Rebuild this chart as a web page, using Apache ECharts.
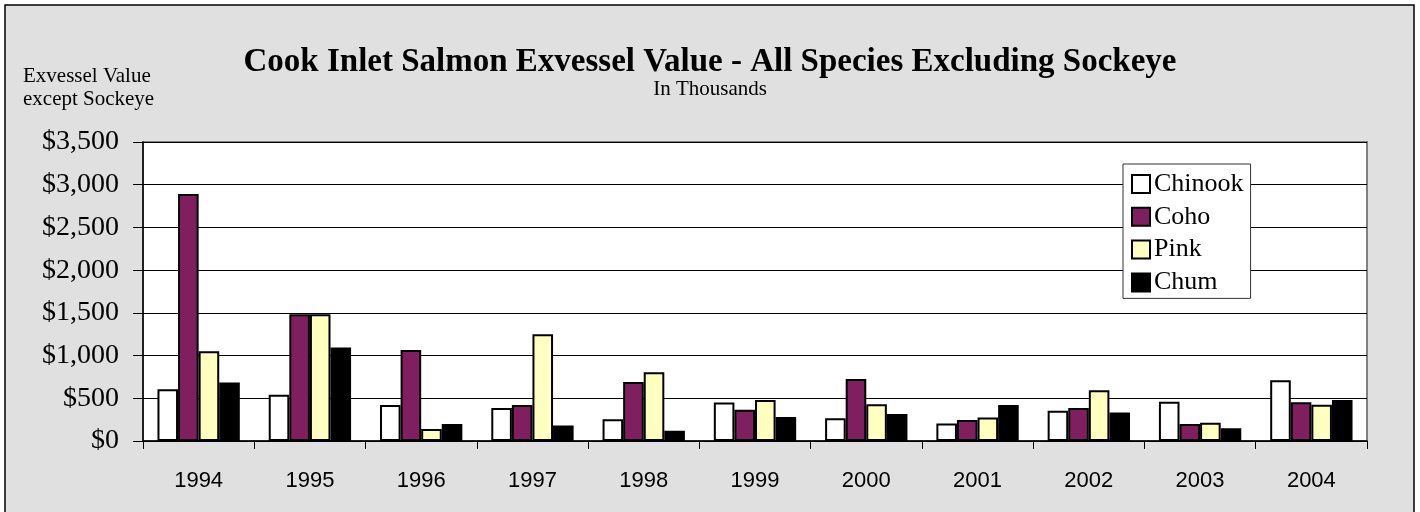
<!doctype html>
<html>

<head>
	<meta charset="utf-8">
	<title>Cook Inlet Salmon Exvessel Value</title>
	<script type="text/javascript" src="https://cdn.jsdelivr.net/npm/echarts@6/dist/echarts.min.js"></script>
	<style>
		body { margin: 0; background: #fff; }
	</style>
</head>

<body>
	<div id="main" style="width: 1420px;height:512px;"></div>
	<script type="text/javascript">
		var years = ['1994', '1995', '1996', '1997', '1998', '1999', '2000', '2001', '2002', '2003', '2004'];
		var chinook = [605, 540, 420, 385, 255, 450, 265, 205, 355, 460, 710];
		var coho = [2890, 1485, 1065, 420, 690, 365, 725, 245, 385, 200, 455];
		var pink = [1050, 1485, 140, 1250, 805, 480, 430, 275, 595, 215, 425];
		var chum = [685, 1095, 200, 180, 120, 280, 315, 420, 335, 150, 480];
		var yTicks = [0, 500, 1000, 1500, 2000, 2500, 3000, 3500];

		var serif = '"Liberation Serif", "Times New Roman", serif';
		var myChart = echarts.init(document.getElementById('main'));

		function money(v) {
			return '$' + v.toLocaleString('en-US');
		}

		function bar(name, data, color) {
			return {
				name: name,
				type: 'bar',
				data: data,
				barGap: '0%',
				barCategoryGap: '26%',
				itemStyle: { color: color, borderColor: '#000', borderWidth: 2 }
			};
		}

		var option = {
			animation: false,
			graphic: [{
				type: 'rect',
				z: -10,
				shape: { x: 5, y: 5, width: 1409, height: 512 },
				style: { fill: '#e0e0e0', stroke: '#000', lineWidth: 1.5 }
			}],
			title: [{
				text: 'Cook Inlet Salmon Exvessel Value - All Species Excluding Sockeye',
				subtext: 'In Thousands',
				left: 'center',
				top: 41,
				itemGap: 0,
				textStyle: { fontFamily: serif, fontSize: 33, fontWeight: 'bold', color: '#000' },
				subtextStyle: { fontFamily: serif, fontSize: 21, color: '#000' }
			}, {
				text: 'Exvessel Value\nexcept Sockeye',
				left: 18,
				top: 60,
				textStyle: { fontFamily: serif, fontSize: 21, fontWeight: 'normal', lineHeight: 23, color: '#000' }
			}],
			legend: {
				orient: 'vertical',
				left: 1123,
				top: 164,
				backgroundColor: '#fff',
				borderColor: '#333',
				borderWidth: 1,
				borderRadius: 0,
				padding: [7, 7, 3, 8],
				itemWidth: 18,
				itemHeight: 18,
				itemGap: 6.8,
				itemStyle: { borderColor: '#000', borderWidth: 2 },
				icon: 'rect',
				textStyle: { fontFamily: serif, fontSize: 26, lineHeight: 26, color: '#000', padding: [0, 0, 0, -1] },
				data: ['Chinook', 'Coho', 'Pink', 'Chum']
			},
			grid: {
				left: 143,
				right: 53,
				top: 142,
				bottom: 71,
				show: true,
				backgroundColor: '#fff',
				borderColor: '#808080',
				borderWidth: 2
			},
			xAxis: {
				type: 'category',
				data: years,
				axisLine: { lineStyle: { color: '#000', width: 1.5 } },
				axisTick: { show: true, length: 8, lineStyle: { color: '#000' } },
				axisLabel: { fontFamily: '"Liberation Sans", Arial, sans-serif', fontSize: 22, color: '#000', margin: 29 }
			},
			yAxis: {
				type: 'value',
				min: yTicks[0],
				max: yTicks[yTicks.length - 1],
				interval: 500,
				axisLine: { show: true, lineStyle: { color: '#000', width: 1.5 } },
				axisTick: { show: true, length: 10, lineStyle: { color: '#000' } },
				splitLine: { lineStyle: { color: '#000', width: 1 } },
				axisLabel: { fontFamily: serif, fontSize: 28, color: '#000', margin: 24, formatter: money }
			},
			series: [
				bar('Chinook', chinook, '#ffffff'),
				bar('Coho', coho, '#801f60'),
				bar('Pink', pink, '#ffffc0'),
				bar('Chum', chum, '#000000')
			]
		};

		myChart.setOption(option);
	</script>
</body>

</html>
